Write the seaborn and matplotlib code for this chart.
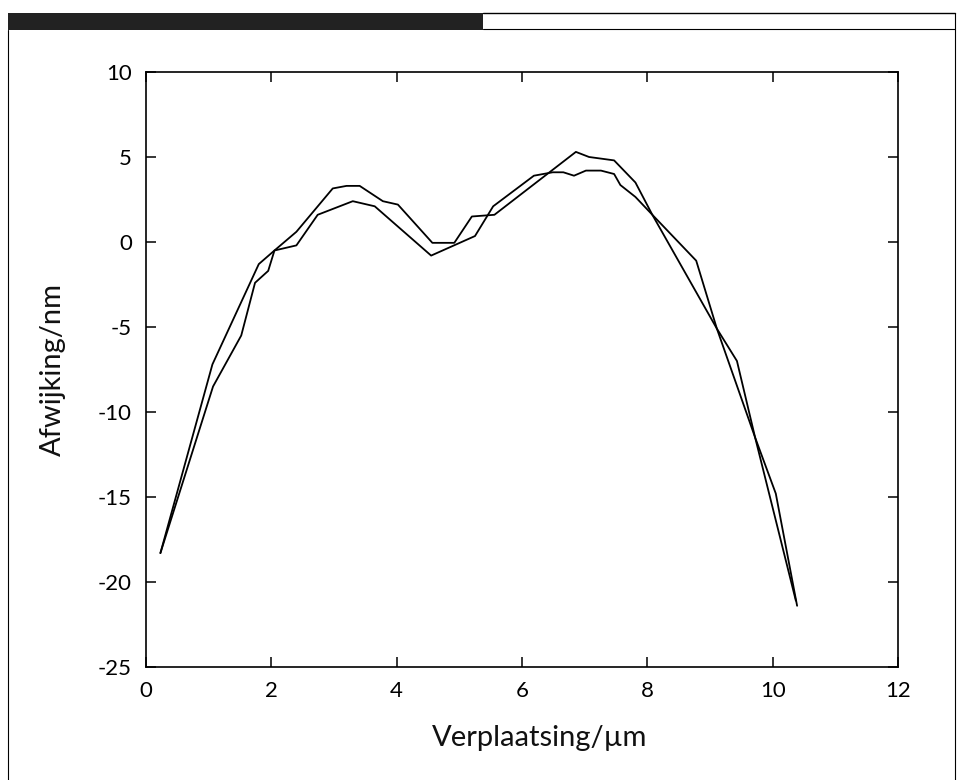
import matplotlib
matplotlib.use("Agg")
import matplotlib.pyplot as plt
import seaborn as sns
import pandas as pd
from matplotlib.patches import Rectangle
from matplotlib.lines import Line2D

# Data
x_a = [0.23, 1.06, 1.80, 2.05, 2.40, 2.98, 3.20, 3.41, 3.78, 4.02, 4.57, 4.92,
       5.20, 5.56, 6.86, 7.07, 7.47, 7.81, 8.08, 8.78, 9.11, 9.43, 9.72, 10.05, 10.39]
y_a = [-18.3, -7.2, -1.3, -0.5, 0.6, 3.15, 3.3, 3.3, 2.4, 2.2, -0.05, -0.05,
       1.5, 1.6, 5.3, 5.0, 4.8, 3.5, 1.6, -1.1, -5.1, -7.0, -11.5, -14.8, -21.4]

x_b = [0.23, 1.07, 1.52, 1.74, 1.95, 2.05, 2.40, 2.74, 3.30, 3.65, 4.55, 5.25,
       5.54, 6.19, 6.49, 6.66, 6.83, 7.02, 7.26, 7.47, 7.57, 7.81, 8.08, 9.11,
       9.72, 10.37]
y_b = [-18.3, -8.5, -5.5, -2.4, -1.7, -0.5, -0.2, 1.6, 2.4, 2.1, -0.8, 0.35,
       2.1, 3.9, 4.1, 4.1, 3.9, 4.2, 4.2, 4.0, 3.35, 2.65, 1.6, -5.1,
       -11.5, -21.1]

x_ticks = [0, 2, 4, 6, 8, 10, 12]
y_ticks = [-25, -20, -15, -10, -5, 0, 5, 10]
x_label = "Verplaatsing/\u00b5m"
y_label = "Afwijking/nm"

df = pd.concat([
    pd.DataFrame({"x": x_a, "y": y_a, "series": "A"}),
    pd.DataFrame({"x": x_b, "y": y_b, "series": "B"}),
], ignore_index=True)

sns.set_theme(style="ticks")
plt.rcParams["font.family"] = ["Lato", "DejaVu Sans"]

fig = plt.figure(figsize=(9.63, 7.8), dpi=100)
fig.patch.set_facecolor("white")
ax = fig.add_axes([0.1516, 0.1449, 0.7809, 0.7628])

sns.lineplot(data=df, x="x", y="y", hue="series",
             palette=["black", "black"], legend=False, sort=False,
             estimator=None, linewidth=1.3, ax=ax)

ax.set_xlim(0, 12)
ax.set_ylim(-25, 10)
ax.set_xticks(x_ticks)
ax.set_yticks(y_ticks)
ax.set_xticklabels([str(t) for t in x_ticks], fontsize=16)
ax.set_yticklabels([str(t) for t in y_ticks], fontsize=16)
ax.tick_params(direction="in", length=7, width=1.1, top=True, right=True,
               colors="black", pad=10)
for s in ax.spines.values():
    s.set_linewidth(1.2)
    s.set_color("black")
    s.set_visible(True)

ax.set_xlabel(x_label, fontsize=21, color="#111111")
ax.set_ylabel(y_label, fontsize=21, color="#111111")
ax.xaxis.set_label_coords(0.523, -0.097)
ax.yaxis.set_label_coords(-0.106, 0.5)

# page decoration of the scan: dark bar and thin frame
fig.add_artist(Rectangle((8 / 963, 1 - 30 / 780), (483 - 8) / 963, 17 / 780,
                         transform=fig.transFigure, facecolor="#222222",
                         edgecolor="none"))
fig.add_artist(Line2D([483 / 963, 955 / 963], [1 - 13 / 780, 1 - 13 / 780],
                      transform=fig.transFigure, color="black", lw=1.0))
fig.add_artist(Line2D([483 / 963, 955 / 963], [1 - 29 / 780, 1 - 29 / 780],
                      transform=fig.transFigure, color="black", lw=0.8))
fig.add_artist(Line2D([8 / 963, 8 / 963], [0, 1 - 30 / 780],
                      transform=fig.transFigure, color="black", lw=0.8))
fig.add_artist(Line2D([955 / 963, 955 / 963], [0, 1 - 13 / 780],
                      transform=fig.transFigure, color="black", lw=0.8))

fig.savefig("out.png", dpi=100, facecolor="white")
